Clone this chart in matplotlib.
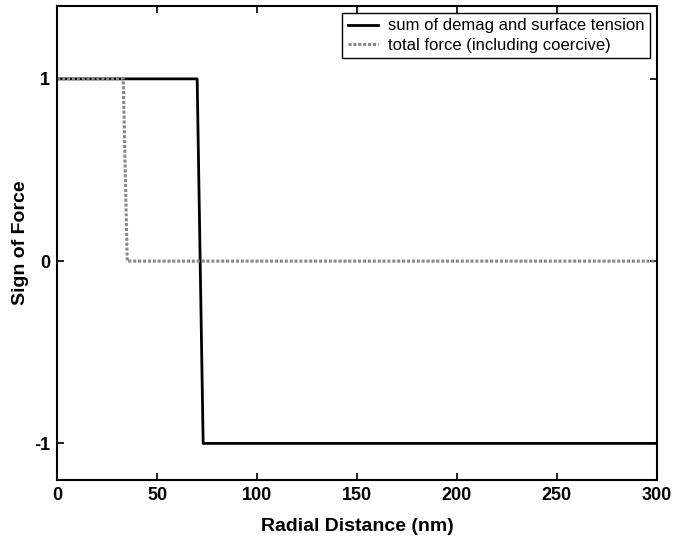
import matplotlib
matplotlib.use('Agg')
import matplotlib.pyplot as plt

plt.rcParams['font.family'] = ['Liberation Sans', 'DejaVu Sans']
plt.rcParams['axes.unicode_minus'] = False

# sum of demag and surface tension
x_sum = [0, 70, 73, 300]
y_sum = [1, 1, -1, -1]

# total force (including coercive)
x_tot = [0, 33, 35, 300]
y_tot = [1, 1, 0, 0]

labels = ['sum of demag and surface tension', 'total force (including coercive)']
xticks = [0, 50, 100, 150, 200, 250, 300]
yticks = [-1, 0, 1]

fig = plt.figure(figsize=(6.82, 5.41), dpi=100)
ax = fig.add_axes([0.084, 0.113, 0.879, 0.876])

ax.plot(x_sum, y_sum, color='black', lw=2, label=labels[0])
ax.plot(x_tot, y_tot, color='#888888', lw=2.2, ls=(0, (1, 0.6)), label=labels[1])

ax.set_xlim(0, 300)
ax.set_ylim(-1.2, 1.4)
ax.set_xticks(xticks)
ax.set_yticks(yticks)
ax.tick_params(direction='in', top=True, right=True, length=5, width=1.2,
               labelsize=13, pad=5)
for lab in ax.get_xticklabels() + ax.get_yticklabels():
    lab.set_fontweight('bold')
for s in ax.spines.values():
    s.set_linewidth(1.5)

ax.set_xlabel('Radial Distance (nm)', fontsize=14, fontweight='bold', labelpad=10)
ax.set_ylabel('Sign of Force', fontsize=14, fontweight='bold', labelpad=4)

leg = ax.legend(loc='upper right', fontsize=12, fancybox=False, framealpha=1,
                edgecolor='black', borderpad=0.35, labelspacing=0.25,
                handlelength=1.8, handletextpad=0.6, borderaxespad=0.4)
leg.get_frame().set_linewidth(1)

fig.savefig('out.png', dpi=100)
